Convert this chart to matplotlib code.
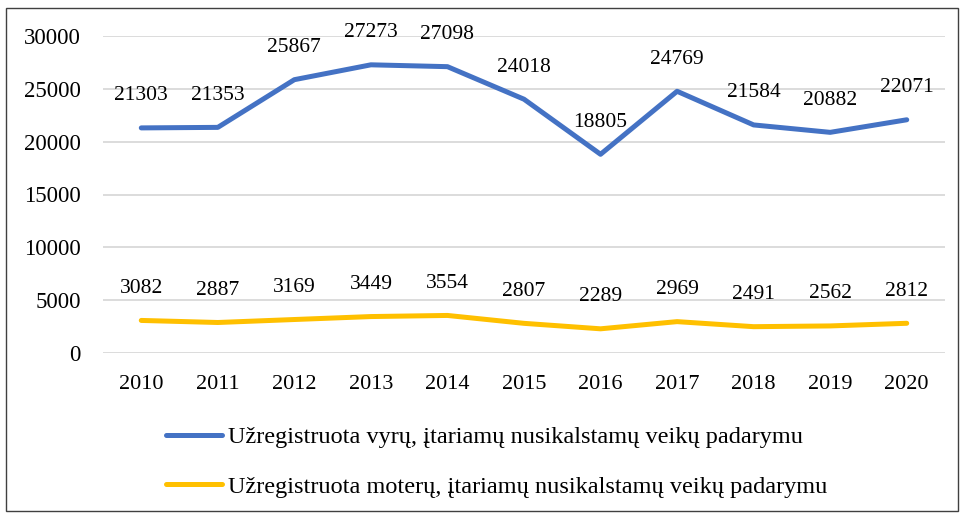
import matplotlib
matplotlib.use("Agg")
import matplotlib.pyplot as plt
from matplotlib.patches import Rectangle

years = ["2010", "2011", "2012", "2013", "2014", "2015", "2016", "2017", "2018", "2019", "2020"]
men = [21303, 21353, 25867, 27273, 27098, 24018, 18805, 24769, 21584, 20882, 22071]
women = [3082, 2887, 3169, 3449, 3554, 2807, 2289, 2969, 2491, 2562, 2812]
men_label = "Užregistruota vyrų, įtariamų nusikalstamų veikų padarymu"
women_label = "Užregistruota moterų, įtariamų nusikalstamų veikų padarymu"
yticks = [0, 5000, 10000, 15000, 20000, 25000, 30000]

plt.rcParams['font.family'] = ['Liberation Serif', 'DejaVu Serif']

W, H = 966, 515
fig = plt.figure(figsize=(W / 100, H / 100), dpi=100)
ax = fig.add_axes([103 / W, 1 - 353 / H, (945 - 103) / W, (353 - 36) / H])

x = list(range(len(years)))
ax.plot(x, men, color="#4472C4", lw=3.6, solid_capstyle="round", label=men_label)
ax.plot(x, women, color="#FFC000", lw=3.6, solid_capstyle="round", label=women_label)

for xi, v in zip(x, men):
    ax.annotate(str(v), (xi, v), xytext=(0, 23), textcoords="offset points",
                ha="center", va="center", fontsize=15.5, color="#000000")
for xi, v in zip(x, women):
    ax.annotate(str(v), (xi, v), xytext=(0, 23), textcoords="offset points",
                ha="center", va="center", fontsize=15.5, color="#000000")

ax.set_xlim(-0.5, len(years) - 0.5)
ax.set_ylim(0, 30000)
ax.set_yticks(yticks)
ax.set_yticklabels([str(t) for t in yticks], fontsize=16.5)
ax.set_xticks(x)
ax.set_xticklabels(years, fontsize=16)
ax.grid(axis="y", color="#D9D9D9", lw=1.3)
ax.set_axisbelow(True)
for s in ax.spines.values():
    s.set_visible(False)
ax.tick_params(length=0)
ax.tick_params(axis="x", pad=16)
ax.tick_params(axis="y", pad=16)

leg = fig.legend(loc="center", bbox_to_anchor=(497 / W, 1 - 462 / H), ncol=1, frameon=False,
                 fontsize=17.5, handlelength=2.3, labelspacing=1.12, handletextpad=0.25)

fig.patches.append(Rectangle((6 / W, 4 / H), (958 - 6) / W, (507 - 4) / H, transform=fig.transFigure,
                             fill=False, edgecolor="#404040", lw=1.0))

fig.savefig("out.png", dpi=100)
